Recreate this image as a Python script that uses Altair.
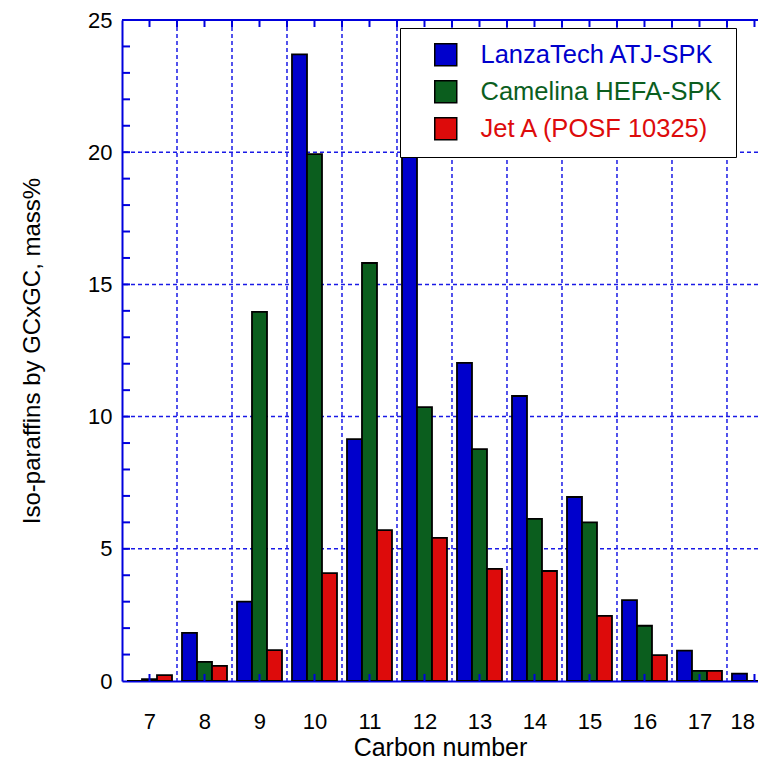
import altair as alt
import pandas as pd

# ---- data ----
carbon = [7, 8, 9, 10, 11, 12, 13, 14, 15, 16, 17, 18]
lanzatech = [0.0, 1.82, 3.0, 23.7, 9.15, 21.0, 12.03, 10.78, 6.96, 3.06, 1.15, 0.28]
camelina = [0.07, 0.72, 13.96, 19.93, 15.81, 10.36, 8.77, 6.13, 6.0, 2.09, 0.38, 0.0]
jet_a = [0.22, 0.57, 1.17, 4.08, 5.71, 5.41, 4.24, 4.16, 2.46, 0.98, 0.38, 0.16]

series_names = ["LanzaTech ATJ-SPK", "Camelina HEFA-SPK", "Jet A (POSF 10325)"]
bar_colors = ["#0000cc", "#0b5e1e", "#dd0b0b"]

y_labels = [0, 5, 10, 15, 20, 25]
grid_x = [7.5, 8.5, 9.5, 10.5, 11.5, 12.5, 13.5, 14.5, 15.5, 16.5, 17.5]
grid_y = [5, 10, 15, 20]
minor_y = list(range(1, 25))
top_ticks = [7.0, 7.5, 8.0, 8.5, 9.0, 9.5, 10.0, 10.5, 11.0, 11.5, 12.0, 12.5,
             13.0, 13.5, 14.0, 14.5, 15.0, 15.5, 16.0, 16.5, 17.0, 17.5, 18.0]

df = pd.DataFrame({
    "carbon": carbon * 3,
    "value": lanzatech + camelina + jet_a,
    "series": [series_names[0]] * len(carbon) + [series_names[1]] * len(carbon) + [series_names[2]] * len(carbon),
})

axis_blue = "#0000dd"
grid_blue = "#1a1ae6"
FONT = "Liberation Sans"

xscale = alt.Scale(domain=[6.5, 18.064], nice=False, zero=False)
yscale = alt.Scale(domain=[0, 25], nice=False, zero=True)

XAXIS = alt.Axis(
    values=carbon, format="d", labelFontSize=22, labelColor="black", labelFont=FONT,
    ticks=False, grid=False, domainColor=axis_blue, domainWidth=2,
    labelPadding=30, labelFlush=False,
    labelAlign={"expr": "datum.value == 18 ? 'right' : 'center'"},
    title="Carbon number", titleFontSize=25, titleFontWeight="normal",
    titleFont=FONT, titleColor="black", titleBaseline="alphabetic", titleY=74)
YAXIS = alt.Axis(
    values=y_labels, labelFontSize=22, labelColor="black", labelFont=FONT,
    ticks=False, grid=False, domainColor=axis_blue, domainWidth=2,
    labelPadding=10, labelFlush=False,
    title="Iso-paraffins by GCxGC, mass%", titleFontSize=24, titleFontWeight="normal",
    titleFont=FONT, titleColor="black", titlePadding=43)

names_expr = "[" + ", ".join("'" + s + "'" for s in series_names) + "]"
label_color_expr = (
    f"datum.label == '{series_names[0]}' ? '{bar_colors[0]}' : "
    f"datum.label == '{series_names[1]}' ? '{bar_colors[1]}' : '{bar_colors[2]}'"
)

vgrid = alt.Chart(pd.DataFrame({"g": grid_x})).mark_rule(
    color=grid_blue, strokeWidth=1.5, strokeDash=[4, 3]
).encode(x=alt.X("g:Q", scale=xscale, axis=XAXIS))

hgrid = alt.Chart(pd.DataFrame({"g": grid_y})).mark_rule(
    color=grid_blue, strokeWidth=1.5, strokeDash=[4, 3]
).encode(y=alt.Y("g:Q", scale=yscale, axis=YAXIS))

bars = alt.Chart(df).transform_calculate(
    idx=f"indexof({names_expr}, datum.series)"
).transform_calculate(
    xa="datum.carbon + (datum.idx - 1) * 0.2727 - 0.1364",
    xb="datum.carbon + (datum.idx - 1) * 0.2727 + 0.1364",
).mark_rect(stroke="black", strokeWidth=1.8, clip=True).encode(
    x=alt.X("xa:Q", scale=xscale, axis=XAXIS),
    x2="xb:Q",
    y=alt.Y("value:Q", scale=yscale, axis=YAXIS),
    y2=alt.datum(0),
    color=alt.Color("series:N", sort=series_names,
                    scale=alt.Scale(domain=series_names, range=bar_colors),
                    legend=alt.Legend(
                        title=None, orient="none", legendX=278, legendY=8,
                        fillColor="white", strokeColor="black", padding=14,
                        symbolType="square", symbolSize=484, symbolStrokeColor="black",
                        symbolStrokeWidth=1.5, symbolOpacity=1, symbolOffset=19,
                        labelFontSize=25.5, labelFont=FONT, labelOffset=22, labelLimit=500,
                        labelColor={"expr": label_color_expr}, rowPadding=8)),
)

top_border = alt.Chart(pd.DataFrame({"t": [25]})).mark_rule(
    color=axis_blue, strokeWidth=2
).encode(y=alt.Y("t:Q", scale=yscale, axis=YAXIS))

top_tk = alt.Chart(pd.DataFrame({"t": top_ticks})).mark_rule(
    color=axis_blue, strokeWidth=2
).encode(x=alt.X("t:Q", scale=xscale, axis=XAXIS), y=alt.value(0), y2=alt.value(7))

bottom_tk = alt.Chart(pd.DataFrame({"t": carbon})).mark_rule(
    color=axis_blue, strokeWidth=2
).encode(x=alt.X("t:Q", scale=xscale, axis=XAXIS), y=alt.value(661), y2=alt.value(654))

left_tk = alt.Chart(pd.DataFrame({"t": minor_y})).mark_rule(
    color=axis_blue, strokeWidth=2
).encode(y=alt.Y("t:Q", scale=yscale, axis=YAXIS), x=alt.value(0), x2=alt.value(8))

chart = alt.layer(vgrid, hgrid, bars, top_border, top_tk, bottom_tk, left_tk).properties(
    width=636, height=661,
    autosize=alt.AutoSizeParams(type="none"),
    padding={"left": 114, "top": 12, "right": 0, "bottom": 81},
).configure_view(stroke=None).configure(font=FONT)

chart.save("out.html", embed_options={"renderer": "svg", "actions": False})
